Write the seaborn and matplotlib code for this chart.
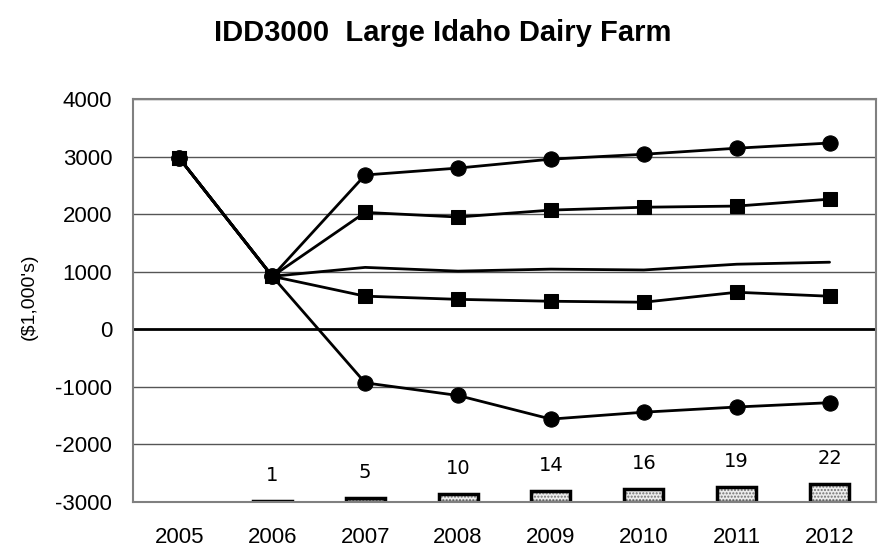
import numpy as np
import seaborn as sns
import matplotlib.pyplot as plt

years = ['2005', '2006', '2007', '2008', '2009', '2010', '2011', '2012']

# five projection bands (all start from the same 2005/2006 values)
p95 = [2970, 920, 2680, 2800, 2955, 3040, 3145, 3235]
p75 = [2970, 920, 2030, 1950, 2070, 2120, 2140, 2260]
mean = [2970, 920, 1075, 1010, 1045, 1030, 1130, 1165]
p25 = [2970, 920, 575, 520, 487, 470, 643, 574]
p5 = [2970, 920, -930, -1150, -1560, -1440, -1350, -1275]

# probability of negative ending cash (%), drawn as small bars at the bottom
prob_years = ['2006', '2007', '2008', '2009', '2010', '2011', '2012']
prob_vals = [1, 5, 10, 14, 16, 19, 22]

sns.set_style('white')
plt.rcParams['font.family'] = ['Liberation Sans', 'DejaVu Sans']
plt.rcParams['axes.unicode_minus'] = False
plt.rcParams['text.color'] = 'black'
plt.rcParams['axes.labelcolor'] = 'black'
plt.rcParams['xtick.color'] = 'black'
plt.rcParams['ytick.color'] = 'black'
plt.rcParams['hatch.linewidth'] = 1.0

fig = plt.figure(figsize=(8.86, 5.49), dpi=100)
ax = fig.add_axes([0.1501, 0.0856, 0.8386, 0.7341])

x = np.arange(len(years))

for yy in range(-2000, 4001, 1000):
    if yy == 0:
        ax.axhline(0, color='black', lw=2, zorder=1)
    else:
        ax.axhline(yy, color='#555555', lw=1, zorder=1)

# bars: base sits on the -3000 axis, height scaled from percent
base = -3000
scale = 14
bx = [years.index(y) for y in prob_years]
heights = [v * scale for v in prob_vals]
# dotted gray fill, then a black outline on top
ax.bar(bx, heights, bottom=base, width=0.42, color='#ececec',
       edgecolor='#707070', linewidth=0, hatch='.....', zorder=2)
bars = ax.bar(bx, heights, bottom=base, width=0.42, fill=False,
              edgecolor='black', linewidth=2.5, zorder=2)
for b, v in zip(bars, prob_vals):
    ax.annotate(str(v), (b.get_x() + b.get_width() / 2, b.get_y() + b.get_height()),
                xytext=(0, 11.5), textcoords='offset points', ha='center', va='bottom',
                fontsize=14, family=['Liberation Sans Narrow', 'DejaVu Sans Condensed', 'DejaVu Sans'])

sns.lineplot(x=x, y=p95, marker='o', markersize=11, color='black', lw=2,
             markeredgecolor='black', ax=ax, zorder=3)
sns.lineplot(x=x, y=p5, marker='o', markersize=11, color='black', lw=2,
             markeredgecolor='black', ax=ax, zorder=3)
sns.lineplot(x=x, y=mean, color='black', lw=2, ax=ax, zorder=3)
sns.lineplot(x=x, y=p75, marker='s', markersize=10, color='black', lw=2,
             markeredgecolor='black', ax=ax, zorder=4)
sns.lineplot(x=x, y=p25, marker='s', markersize=10, color='black', lw=2,
             markeredgecolor='black', ax=ax, zorder=4)

ax.set_xlim(-0.5, 7.5)
ax.set_ylim(-3000, 4000)
ax.set_xticks(x)
ax.set_xticklabels(years)
ax.set_yticks(range(-3000, 4001, 1000))
ax.tick_params(axis='both', length=0, labelsize=16)
ax.tick_params(axis='x', pad=18)
ax.tick_params(axis='y', pad=15)
for s in ax.spines.values():
    s.set_color('#808080')
    s.set_linewidth(1.5)

ax.set_ylabel("($1,000's)", fontsize=14)
ax.yaxis.set_label_coords(-0.128, 0.51)

fig.text(0.5, 0.965, 'IDD3000  Large Idaho Dairy Farm', ha='center', va='top',
         fontsize=21, fontweight='bold')

plt.savefig('out.png', dpi=100)
